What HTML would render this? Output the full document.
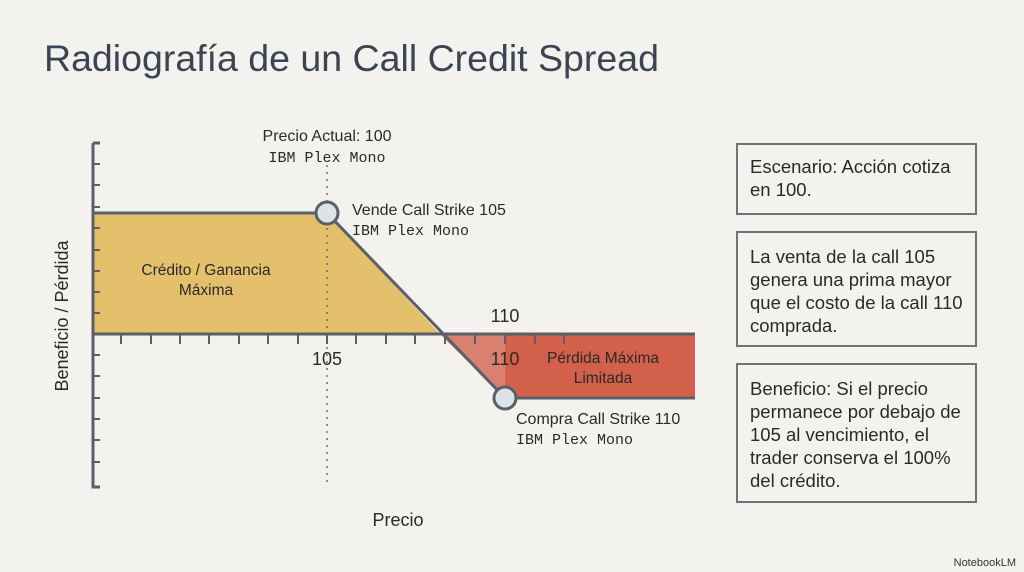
<!DOCTYPE html>
<html><head><meta charset="utf-8"><style>
html,body{margin:0;padding:0;background:#f3f2ee;}
body{width:1024px;height:572px;overflow:hidden;position:relative;font-family:"Liberation Sans",sans-serif;}
.box{position:absolute;left:736px;width:241px;border:2px solid #6f7378;box-sizing:border-box;font-size:18.5px;line-height:23px;color:#2a2a2a;padding:10px 0 0 12px;}
</style></head><body>
<div style="position:absolute;left:44px;top:37px;font-size:37.5px;color:#3b4552;">Radiografía de un Call Credit Spread</div>
<svg width="1024" height="572" style="position:absolute;left:0;top:0" font-family="Liberation Sans, sans-serif">
<polygon points="93,213 327,213 440,334 93,334" fill="#e4bf6c"/>
<polygon points="440,334 695,334 695,398 505,398" fill="#d2604a"/>
<polygon points="440,334 505,334 505,398" fill="#d98070"/>
<line x1="327" y1="165" x2="327" y2="487" stroke="#6a6e74" stroke-width="1.5" stroke-dasharray="2,5"/>
<g stroke="#5a6068" stroke-width="3" fill="none">
<polyline points="93,143 93,487 100,487"/>
<line x1="93" y1="143" x2="100" y2="143"/>
<line x1="93" y1="334" x2="695" y2="334"/>
<polyline points="93,213 327,213 505,398 695,398"/>
</g>
<g stroke="#5a6068" stroke-width="2">
<line x1="93" y1="164" x2="100" y2="164"/><line x1="93" y1="185" x2="100" y2="185"/><line x1="93" y1="207" x2="100" y2="207"/><line x1="93" y1="228" x2="100" y2="228"/><line x1="93" y1="250" x2="100" y2="250"/><line x1="93" y1="271" x2="100" y2="271"/><line x1="93" y1="292" x2="100" y2="292"/><line x1="93" y1="313" x2="100" y2="313"/><line x1="93" y1="355" x2="100" y2="355"/><line x1="93" y1="376" x2="100" y2="376"/><line x1="93" y1="398" x2="100" y2="398"/><line x1="93" y1="419" x2="100" y2="419"/><line x1="93" y1="440" x2="100" y2="440"/><line x1="93" y1="462" x2="100" y2="462"/>
<line x1="121" y1="334" x2="121" y2="344"/><line x1="151" y1="334" x2="151" y2="344"/><line x1="180" y1="334" x2="180" y2="344"/><line x1="209" y1="334" x2="209" y2="344"/><line x1="239" y1="334" x2="239" y2="344"/><line x1="268" y1="334" x2="268" y2="344"/><line x1="298" y1="334" x2="298" y2="344"/><line x1="327" y1="334" x2="327" y2="344"/><line x1="356" y1="334" x2="356" y2="344"/><line x1="386" y1="334" x2="386" y2="344"/><line x1="415" y1="334" x2="415" y2="344"/><line x1="445" y1="334" x2="445" y2="344"/><line x1="475" y1="334" x2="475" y2="344"/><line x1="505" y1="334" x2="505" y2="344"/><line x1="535" y1="334" x2="535" y2="344"/><line x1="564" y1="334" x2="564" y2="344"/>
</g>
<circle cx="327" cy="213" r="11" fill="#dfe2e6" stroke="#5a6068" stroke-width="3"/>
<circle cx="505" cy="398" r="11" fill="#dfe2e6" stroke="#5a6068" stroke-width="3"/>
<g fill="#2a2a2a" font-size="16">
<text x="327" y="141" text-anchor="middle">Precio Actual: 100</text>
<text x="327" y="162" text-anchor="middle" font-family="Liberation Mono, monospace" font-size="15">IBM Plex Mono</text>
<text x="352" y="215">Vende Call Strike 105</text>
<text x="352" y="235" font-family="Liberation Mono, monospace" font-size="15">IBM Plex Mono</text>
<text x="206" y="275" text-anchor="middle" font-size="15.5">Crédito / Ganancia</text>
<text x="206" y="295" text-anchor="middle" font-size="15.5">Máxima</text>
<text x="505" y="322" text-anchor="middle" font-size="18">110</text>
<text x="327" y="365" text-anchor="middle" font-size="18">105</text>
<text x="505" y="365" text-anchor="middle" font-size="18">110</text>
<text x="603" y="363" text-anchor="middle" font-size="15.5">Pérdida Máxima</text>
<text x="603" y="383" text-anchor="middle" font-size="15.5">Limitada</text>
<text x="516" y="424">Compra Call Strike 110</text>
<text x="516" y="444" font-family="Liberation Mono, monospace" font-size="15">IBM Plex Mono</text>
<text x="398" y="526" text-anchor="middle" font-size="18">Precio</text>
<text transform="translate(68,316) rotate(-90)" text-anchor="middle" font-size="18">Beneficio / Pérdida</text>
</g>
<text x="1016" y="566" text-anchor="end" font-size="11" fill="#333">NotebookLM</text>
</svg>
<div class="box" style="top:143px;height:72px;">Escenario: Acción cotiza<br>en 100.</div>
<div class="box" style="top:231px;height:116px;padding-top:12px;">La venta de la call 105<br>genera una prima mayor<br>que el costo de la call 110<br>comprada.</div>
<div class="box" style="top:363px;height:140px;padding-top:12px;">Beneficio: Si el precio<br>permanece por debajo de<br>105 al vencimiento, el<br>trader conserva el 100%<br>del crédito.</div>
</body></html>
